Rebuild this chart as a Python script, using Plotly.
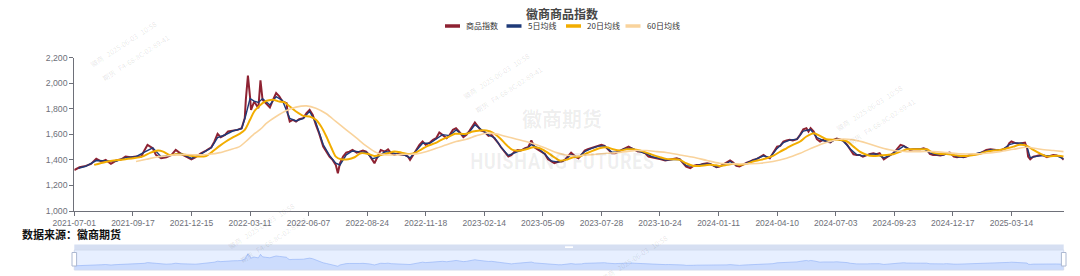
import plotly.graph_objects as go

# ---------------- data (trading-day offset from 2021-07-01, index level) ----------------
tick_labels = ["2021-07-01", "2021-09-17", "2021-12-15", "2022-03-11", "2022-06-07", "2022-08-24",
               "2022-11-18", "2023-02-14", "2023-05-09", "2023-07-28", "2023-10-24", "2024-01-11",
               "2024-04-10", "2024-07-03", "2024-09-23", "2024-12-17", "2025-03-14"]
tick_days = [0, 56, 112, 168, 224, 280, 336, 392, 448, 504, 560, 616, 672, 728, 784, 840, 896]
last_day = 946
y_ticks = [1000, 1200, 1400, 1600, 1800, 2000, 2200]

idx_day = [0, 5, 11, 16, 21, 26, 30, 35, 40, 45, 49, 54, 59, 64, 67, 70, 75, 78, 83, 88,
           93, 97, 102, 107, 112, 116, 121, 126, 131, 134, 137, 140, 144, 147, 152, 156, 160, 163, 164, 166,
           168, 169, 172, 176, 178, 180, 183, 187,
           190, 193, 196, 199, 203, 204, 206, 209, 212, 215, 219, 222, 225, 228, 231, 234, 238, 241, 244, 247,
           250, 252, 254, 257, 260, 263, 266, 270, 273, 276, 279, 282, 285, 287, 290, 293, 297, 300, 303, 306,
           309, 313, 316, 319, 321, 324, 327, 330, 333, 336, 340, 343, 346, 349, 352, 356, 359, 362, 365, 368,
           372, 375,
           378, 381, 383, 386, 389, 392, 396, 399, 402, 405, 408, 411, 415, 418, 421, 424, 427, 431, 434, 437,
           440, 443, 447, 450, 453, 456, 459, 463, 466, 469, 472, 475, 479, 482, 485, 488, 491, 494, 498, 501,
           504, 507, 510, 514, 517, 520, 523, 526, 530, 533, 536, 539, 542, 546, 549, 552, 555, 558, 561, 565,
           568,
           573, 576, 579, 582, 585, 589, 592, 595, 598, 601, 605, 608, 611, 614, 617, 620, 624, 627, 630, 633,
           636, 640, 643, 646, 649, 652, 656, 659, 662, 665, 668, 672, 675, 678, 681, 684, 687, 691, 694, 697,
           700, 702, 704, 707, 710, 713, 716, 719, 723, 726, 729, 732, 735, 739, 742, 745, 748, 751, 754, 758,
           761,
           764, 767, 770, 774, 777, 780, 783, 786, 790, 793, 796, 799, 802, 805, 809, 812, 815, 818, 821, 825,
           828, 831, 834, 837, 841, 844, 847, 850, 853, 856, 860, 863, 866, 869, 872, 876, 879, 882, 885, 888,
           892, 894, 896, 900, 903, 906, 909, 911, 912, 914, 917, 920, 924, 927, 930, 933, 936, 939, 943, 946]
idx_val = [1321, 1342, 1353, 1369, 1410, 1387, 1400, 1369, 1395, 1405, 1426, 1421, 1426, 1426, 1473, 1518, 1491, 1439, 1413, 1421,
           1439, 1478, 1447, 1426, 1405, 1421, 1452, 1473, 1499, 1544, 1604, 1578, 1596, 1622, 1630, 1635, 1648, 1727, 1870, 2059,
           1896, 1792, 1857, 1805, 2022, 1870, 1844, 1810,
           1870, 1923, 1897, 1857, 1844, 1766, 1701, 1714, 1701, 1719, 1727, 1766, 1792, 1753, 1674, 1609, 1504, 1465, 1426, 1400,
           1361, 1295, 1374, 1426, 1457, 1465, 1478, 1457, 1465, 1473, 1465, 1439, 1400, 1374, 1426, 1478, 1465, 1483, 1452, 1439,
           1447, 1439, 1439, 1426, 1400, 1439, 1478, 1518, 1544, 1518, 1536, 1557, 1570, 1614, 1596, 1570, 1596, 1635, 1648, 1622,
           1578, 1596,
           1630, 1674, 1693, 1661, 1630, 1622, 1588, 1596, 1570, 1536, 1499, 1465, 1426, 1439, 1465, 1478, 1473, 1491, 1499, 1552,
           1499, 1483, 1465, 1447, 1405, 1387, 1374, 1387, 1387, 1400, 1426, 1457, 1426, 1413, 1439, 1473, 1483, 1491, 1499, 1510,
           1518, 1510, 1483, 1452, 1452, 1465, 1478, 1491, 1504, 1491, 1478, 1465, 1465, 1452, 1426, 1421, 1421, 1413, 1405, 1395,
           1400,
           1405, 1413, 1405, 1374, 1348, 1335, 1353, 1361, 1361, 1369, 1374, 1369, 1353, 1342, 1348, 1361, 1379, 1395, 1379, 1353,
           1348, 1369, 1379, 1387, 1400, 1405, 1421, 1439, 1421, 1413, 1452, 1504, 1510, 1544, 1552, 1557, 1552, 1562, 1596, 1640,
           1648, 1622, 1648, 1622, 1562, 1544, 1557, 1544, 1536, 1557, 1567, 1562, 1552, 1518, 1478, 1444, 1439, 1439, 1426, 1439,
           1447,
           1452, 1444, 1452, 1405, 1421, 1439, 1452, 1478, 1518, 1510, 1491, 1478, 1483, 1483, 1483, 1491, 1483, 1447, 1439, 1439,
           1434, 1439, 1452, 1457, 1426, 1421, 1426, 1421, 1426, 1439, 1447, 1447, 1452, 1465, 1478, 1483, 1478, 1478, 1473, 1483,
           1499, 1531, 1544, 1531, 1526, 1531, 1536, 1491, 1426, 1405, 1426, 1431, 1439, 1434, 1421, 1431, 1439, 1434, 1426, 1400]

ma5_day = [4, 11, 21, 30, 40, 49, 59, 67, 75, 83, 93, 102, 112, 121, 131, 137, 144, 152, 160, 164,
           168, 172, 176, 180, 187, 193, 199, 206, 212, 219, 225, 231, 238, 244, 250, 254, 260, 266, 273, 279,
           285, 290, 297, 303, 309, 316, 321, 327, 333, 340, 346, 352, 359, 365, 372, 378, 383, 389, 396, 402,
           408, 415, 421, 427, 434, 437, 443, 450, 456, 463, 469, 475, 482, 488, 494, 501, 507, 514, 520, 526,
           533, 539, 546, 552, 558, 565, 573, 579, 585, 592, 601, 608, 614, 620, 627, 633, 640, 646, 652, 659,
           665, 672, 678, 684, 691, 697, 704, 710, 716, 723, 729, 735, 742, 748, 754, 761, 767, 774, 780, 786,
           793, 799, 805, 812, 818, 825, 831, 837, 844, 850, 856, 863, 869, 876, 882, 888, 894, 900, 906, 911,
           914, 920, 927, 933, 939, 946]
ma5_val = [1335, 1350, 1395, 1395, 1390, 1418, 1425, 1460, 1495, 1425, 1440, 1450, 1412, 1445, 1495, 1575, 1595, 1628, 1645, 1750,
           1880, 1860, 1850, 1880, 1830, 1895, 1865, 1725, 1705, 1725, 1780, 1690, 1520, 1435, 1375, 1360, 1440, 1470, 1463, 1460,
           1410, 1420, 1465, 1458, 1445, 1438, 1415, 1470, 1530, 1530, 1565, 1598, 1590, 1635, 1590, 1620, 1675, 1640, 1595, 1572,
           1500, 1435, 1458, 1475, 1495, 1520, 1495, 1445, 1392, 1383, 1398, 1440, 1420, 1465, 1488, 1508, 1510, 1460, 1462, 1488,
           1492, 1468, 1452, 1425, 1415, 1398, 1402, 1405, 1355, 1350, 1366, 1368, 1345, 1358, 1388, 1360, 1365, 1386, 1404, 1432,
           1418, 1490, 1535, 1555, 1562, 1625, 1638, 1575, 1552, 1540, 1563, 1550, 1485, 1442, 1430, 1445, 1447, 1415, 1435, 1470,
           1508, 1482, 1483, 1488, 1455, 1440, 1440, 1452, 1424, 1422, 1436, 1447, 1462, 1480, 1478, 1482, 1520, 1533, 1530, 1500,
           1418, 1428, 1435, 1430, 1434, 1408]

ma20_day = [19, 30, 43, 56, 65, 73, 80, 85, 91, 97, 104, 113, 120, 126, 132, 139, 145, 152, 158, 163,
            168, 172, 177, 182, 185, 190, 196, 201, 206, 212, 219, 225, 231, 236, 241, 246, 250, 255, 262, 268,
            274, 281, 287, 293, 300, 306, 313, 319, 325, 332, 338, 345, 351, 357, 364, 370, 375, 381, 388, 394,
            400, 407, 413, 419, 426, 432, 439, 445, 451, 458, 464, 470, 477, 483, 490, 496, 502, 509, 515, 522,
            528, 534, 541, 547, 553, 560, 566, 573, 579, 585, 592, 598, 605, 611, 617, 624, 630, 636, 643, 649,
            656, 662, 668, 675, 681, 687, 694, 700, 707, 713, 719, 726, 732, 739, 745, 751, 758, 764, 770, 777,
            783, 790, 796, 802, 809, 815, 821, 828, 834, 841, 847, 853, 860, 866, 872, 879, 885, 892, 898, 904,
            911, 917, 924, 930, 936, 943, 946]
ma20_val = [1361, 1384, 1400, 1413, 1426, 1457, 1473, 1465, 1439, 1444, 1442, 1431, 1426, 1431, 1465, 1510, 1544, 1578, 1604, 1635,
            1714, 1779, 1823, 1857, 1865, 1870, 1857, 1850, 1818, 1779, 1745, 1740, 1714, 1661, 1583, 1491, 1426, 1405, 1405, 1421,
            1452, 1447, 1431, 1439, 1452, 1465, 1457, 1447, 1452, 1483, 1510, 1531, 1557, 1578, 1604, 1604, 1604, 1622, 1630, 1630,
            1614, 1570, 1518, 1478, 1473, 1483, 1499, 1491, 1465, 1426, 1395, 1400, 1421, 1426, 1452, 1473, 1491, 1499, 1483, 1473,
            1483, 1483, 1473, 1457, 1439, 1421, 1408, 1405, 1400, 1374, 1353, 1353, 1361, 1361, 1353, 1361, 1369, 1361, 1369, 1387,
            1400, 1413, 1431, 1465, 1491, 1518, 1544, 1583, 1609, 1588, 1562, 1557, 1557, 1544, 1504, 1465, 1439, 1431, 1434, 1439,
            1444, 1465, 1483, 1483, 1483, 1483, 1457, 1447, 1447, 1439, 1431, 1431, 1439, 1447, 1465, 1473, 1478, 1491, 1504, 1518,
            1510, 1478, 1447, 1426, 1431, 1431, 1426]

ma60_day = [59, 69, 78, 88, 97, 107, 120, 129, 139, 148, 158, 164, 171, 179, 183, 193, 203, 212, 222, 231,
            241, 250, 260, 270, 279, 289, 298, 308, 317, 327, 337, 346, 356, 365, 375, 384, 394, 403, 413, 423,
            432, 442, 451, 461, 470, 480, 490, 499, 509, 518, 528, 537, 547, 557, 566, 579, 592, 605, 617, 630,
            643, 656, 668, 681, 694, 707, 719, 732, 745, 758, 770, 783, 796, 809, 821, 834, 847, 860, 872, 885,
            898, 911, 924, 936, 946]
ma60_val = [1387, 1405, 1421, 1431, 1439, 1442, 1439, 1444, 1457, 1478, 1504, 1544, 1596, 1648, 1682, 1740, 1787, 1813, 1823, 1805,
            1761, 1701, 1635, 1570, 1510, 1457, 1439, 1439, 1444, 1447, 1465, 1491, 1518, 1544, 1562, 1588, 1609, 1604, 1583, 1562,
            1544, 1518, 1491, 1457, 1439, 1431, 1439, 1444, 1452, 1457, 1465, 1473, 1473, 1465, 1458, 1439, 1421, 1395, 1374, 1369,
            1369, 1374, 1387, 1413, 1452, 1499, 1536, 1562, 1557, 1531, 1499, 1473, 1465, 1465, 1465, 1457, 1447, 1447, 1452, 1465,
            1483, 1499, 1483, 1473, 1465]

series_names = ["商品指数", "5日均线", "20日均线", "60日均线"]
series_colors = ["#8E2232", "#1E3A78", "#F2AD00", "#F9D39C"]

# ---------------- geometry (pixels) ----------------
W, H = 1080, 276
X0, X1 = 74.3, 1063.7
Y_TOP, Y_BOT = 57.7, 211.0
MH_TOP, SL_TOP, SL_BOT = 244.5, 250.0, 270.0


def px(x):
    return x / W


def py(y):
    return 1 - y / H


FONT_CJK = "Noto Sans CJK SC, Noto Sans, sans-serif"
AXIS_C = "#6E7079"

fig = go.Figure()
fig.add_trace(go.Scatter(x=idx_day, y=idx_val, mode="lines", name=series_names[0],
                         line=dict(color=series_colors[0], width=2.0), hoverinfo="skip"))
fig.add_trace(go.Scatter(x=ma5_day, y=ma5_val, mode="lines", name=series_names[1],
                         line=dict(color=series_colors[1], width=1.4), hoverinfo="skip"))
fig.add_trace(go.Scatter(x=ma20_day, y=ma20_val, mode="lines", name=series_names[2],
                         line=dict(color=series_colors[2], width=2.0, shape="spline", smoothing=0.8),
                         hoverinfo="skip"))
fig.add_trace(go.Scatter(x=ma60_day, y=ma60_val, mode="lines", name=series_names[3],
                         line=dict(color=series_colors[3], width=1.6, shape="spline", smoothing=0.8),
                         hoverinfo="skip"))
# data-zoom slider shadow
fig.add_trace(go.Scatter(x=idx_day, y=idx_val, xaxis="x2", yaxis="y2", mode="lines", fill="tozeroy",
                         line=dict(color="#8fb0f7", width=0.6), fillcolor="rgba(143,176,247,0.3)",
                         hoverinfo="skip", showlegend=False))

vmin, vmax = min(idx_val), max(idx_val)
pad = (vmax - vmin) * 0.3

fig.update_layout(
    width=W, height=H, margin=dict(l=0, r=0, t=0, b=0, autoexpand=False),
    paper_bgcolor="white", plot_bgcolor="white", showlegend=False,
    font=dict(family=FONT_CJK),
    xaxis=dict(domain=[px(X0), px(X1)], range=[0, last_day], anchor="y", automargin=False,
               tickmode="array", tickvals=tick_days, ticktext=tick_labels,
               showgrid=False, zeroline=False, showline=True, linecolor=AXIS_C, linewidth=1,
               ticks="outside", ticklen=4, tickcolor=AXIS_C,
               tickfont=dict(size=8.5, color=AXIS_C, family="Liberation Sans, Arial, sans-serif")),
    yaxis=dict(domain=[py(Y_BOT), py(Y_TOP)], range=[1000, 2200], anchor="x", automargin=False,
               tickmode="array", tickvals=y_ticks, tickformat=",d",
               showgrid=False, zeroline=False, showline=True, linecolor=AXIS_C, linewidth=1,
               ticks="outside", ticklen=4, tickcolor=AXIS_C,
               tickfont=dict(size=8.7, color=AXIS_C, family="Liberation Sans, Arial, sans-serif")),
    xaxis2=dict(domain=[px(X0), px(X1)], range=[0, last_day], anchor="y2", visible=False),
    yaxis2=dict(domain=[py(SL_BOT), py(SL_TOP)], range=[vmin - pad, vmax + pad], anchor="x2", visible=False),
)

shapes = []
# slider filler, move handle strip, border
shapes.append(dict(type="rect", xref="paper", yref="paper", layer="below",
                   x0=px(X0), x1=px(X1), y0=py(SL_BOT), y1=py(SL_TOP),
                   fillcolor="rgba(135,175,255,0.2)", line=dict(width=0)))
shapes.append(dict(type="rect", xref="paper", yref="paper", layer="below",
                   x0=px(X0), x1=px(X1), y0=py(SL_TOP), y1=py(MH_TOP),
                   fillcolor="rgba(200,212,238,0.75)", line=dict(width=0)))
shapes.append(dict(type="rect", xref="paper", yref="paper", layer="above",
                   x0=px(X0), x1=px(X1), y0=py(SL_BOT), y1=py(SL_TOP),
                   fillcolor="rgba(0,0,0,0)", line=dict(color="#d2dbee", width=1)))
xm = (X0 + X1) / 2
shapes.append(dict(type="rect", xref="paper", yref="paper", layer="above",
                   x0=px(xm - 4), x1=px(xm + 4), y0=py(248), y1=py(246.3),
                   fillcolor="white", line=dict(width=0)))
for hx in (X0, X1):
    shapes.append(dict(type="rect", xref="paper", yref="paper", layer="above",
                       x0=px(hx - 2.3), x1=px(hx + 2.3), y0=py(266), y1=py(252.5),
                       fillcolor="white", line=dict(color="#ACB8D1", width=1)))

# legend
legend_x = [445, 506.5, 566, 625.5]
LEG_Y = 26
annotations = []
for lx, name, col in zip(legend_x, series_names, series_colors):
    shapes.append(dict(type="line", xref="paper", yref="paper",
                       x0=px(lx), x1=px(lx + 15), y0=py(LEG_Y), y1=py(LEG_Y),
                       line=dict(color=col, width=3.5)))
    annotations.append(dict(text=name, x=px(lx + 19), y=py(LEG_Y), xref="paper", yref="paper",
                            xanchor="left", yanchor="middle", showarrow=False,
                            font=dict(size=8, color="#333333", family=FONT_CJK)))

# title
annotations.append(dict(text="<b>徽商商品指数</b>", x=px(562), y=py(13.5), xref="paper", yref="paper",
                        xanchor="center", yanchor="middle", showarrow=False,
                        font=dict(size=12, color="#464646", family=FONT_CJK)))
# source
annotations.append(dict(text="<b>数据来源：徽商期货</b>", x=px(20), y=py(233.5), xref="paper", yref="paper",
                        xanchor="left", yanchor="middle", showarrow=False,
                        font=dict(size=11, color="#111111", family=FONT_CJK)))
# watermark
annotations.append(dict(text="<b>徽商期货</b>", x=px(562), y=py(118), xref="paper", yref="paper",
                        xanchor="center", yanchor="middle", showarrow=False,
                        font=dict(size=20, color="rgba(0,0,0,0.07)", family=FONT_CJK)))
annotations.append(dict(text="<b>HUISHANG FUTURES</b>", x=px(562), y=py(161), xref="paper", yref="paper",
                        xanchor="center", yanchor="middle", showarrow=False,
                        font=dict(size=22, color="rgba(0,0,0,0.06)",
                                  family="Liberation Sans Narrow, Roboto Condensed, Roboto, sans-serif")))
nb = "\u00a0\u00a0\u00a0"
wm1 = "徽商" + nb + "2025-06-03" + nb + "10:58"
wm2 = "期货" + nb + "F4-68-8C-02-89-41"
wm_items = [(90, 66, wm1, 33.6, -21.8), (90, 66, wm2, 45.5, -7.7),
            (463, 98, wm1, 33.6, -21.8), (463, 98, wm2, 45.5, -7.7),
            (836, 130, wm1, 33.6, -21.8), (836, 130, wm2, 45.5, -7.7),
            (228, 248, wm1, 33.6, -21.8), (228, 248, wm2, 45.5, -7.7),
            (601, 280, wm1, 33.6, -21.8)]
for sx, sy, txt, dx, dy in wm_items:
    annotations.append(dict(text=txt, x=px(sx + dx), y=py(sy + dy), xref="paper", yref="paper",
                            xanchor="center", yanchor="middle", showarrow=False, textangle=-33,
                            font=dict(size=7, color="rgba(0,0,0,0.11)", family=FONT_CJK)))

fig.update_layout(shapes=shapes, annotations=annotations)
fig.write_html("out.html")
